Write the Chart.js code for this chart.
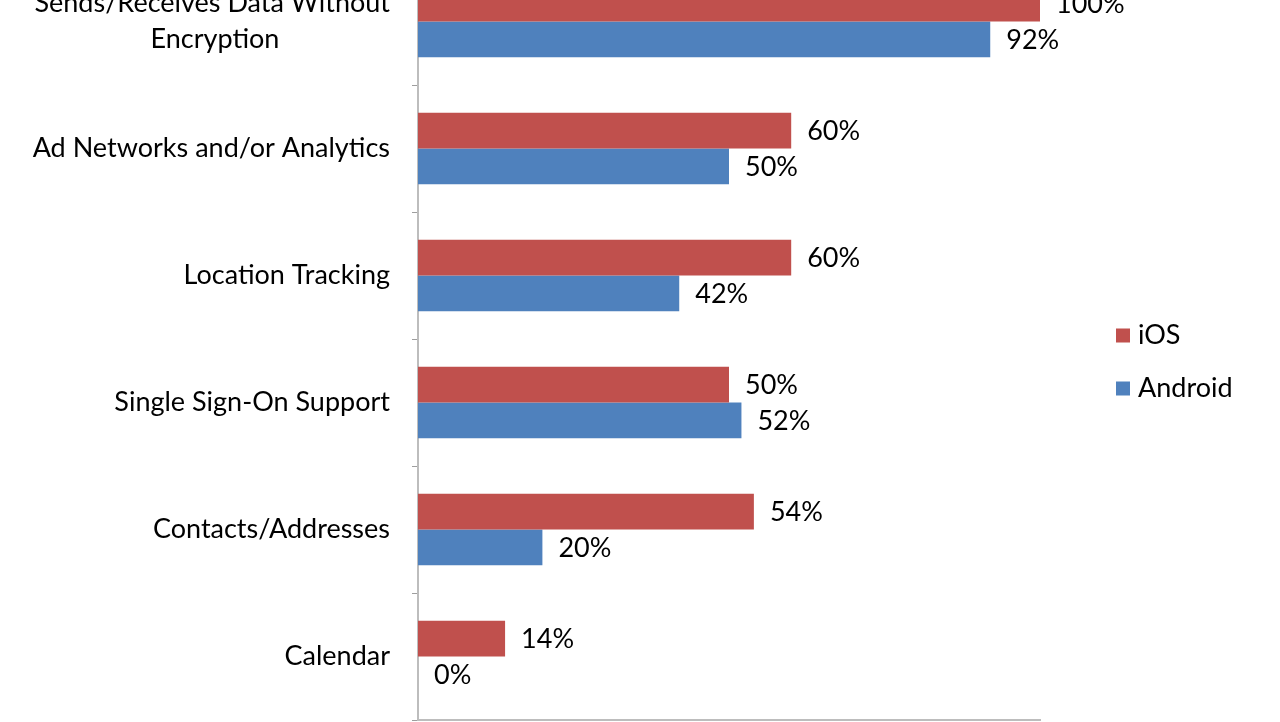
<!DOCTYPE html>
<html>
<head>
<meta charset="utf-8">
<script src="https://cdn.jsdelivr.net/npm/chart.js@4.4.1/dist/chart.umd.min.js"></script>
<style>
  html, body { margin: 0; padding: 0; background: #fff; overflow: hidden; }
  #wrap { position: absolute; left: 0; top: -48px; width: 1280px; height: 780px; }
</style>
</head>
<body>
<div id="wrap"><canvas id="myBarChart"></canvas></div>
<script>
// data
const categories = [
    ['Sends/Receives Data Without', 'Encryption'],
    'Ad Networks and/or Analytics',
    'Location Tracking',
    'Single Sign-On Support',
    'Contacts/Addresses',
    'Calendar'
];
const iosValues = [100, 60, 60, 50, 54, 14];
const androidValues = [92, 50, 42, 52, 20, 0];
const seriesNames = ['iOS', 'Android'];

const FONT = 'Lato, "Open Sans", sans-serif';
const FONT_SIZE = 27;

// wrapped labels are centred line by line, like the original
const measureCtx = document.createElement('canvas').getContext('2d');
function centreLines(label) {
    if (!Array.isArray(label)) return label;
    measureCtx.font = FONT_SIZE + 'px ' + FONT;
    const widths = label.map(l => measureCtx.measureText(l).width);
    const maxW = Math.max(...widths);
    const nbsp = measureCtx.measureText('\u00A0').width;
    return label.map((l, i) => l + '\u00A0'.repeat(Math.round((maxW - widths[i]) / 2 / nbsp)));
}

// value labels at the end of each bar
const barLabels = {
    id: 'barLabels',
    afterDatasetsDraw(chart) {
        const ctx = chart.ctx;
        ctx.save();
        ctx.font = FONT_SIZE + 'px ' + FONT;
        ctx.fillStyle = '#000';
        ctx.textBaseline = 'middle';
        ctx.textAlign = 'left';
        chart.data.datasets.forEach((ds, i) => {
            chart.getDatasetMeta(i).data.forEach((bar, j) => {
                ctx.fillText(ds.data[j] + '%', bar.x + 16, bar.y + 1);
            });
        });
        ctx.restore();
    }
};

// legend drawn by hand so it sits where the original has it
const sideLegend = {
    id: 'sideLegend',
    afterDraw(chart) {
        const ctx = chart.ctx;
        const a = chart.chartArea;
        const x = a.right + 76;
        const midY = (a.top + a.bottom) / 2 + 22;
        ctx.save();
        ctx.font = FONT_SIZE + 'px ' + FONT;
        ctx.textBaseline = 'middle';
        chart.data.datasets.forEach((ds, i) => {
            const y = midY + (i - 0.5) * 53;
            ctx.fillStyle = ds.backgroundColor;
            ctx.fillRect(x, y - 6, 14, 14);
            ctx.fillStyle = '#000';
            ctx.fillText(ds.label, x + 22, y + 1);
        });
        ctx.restore();
    }
};

const config = {
    type: 'bar',
    data: {
        labels: categories,
        datasets: [{
            label: seriesNames[0],
            data: iosValues,
            backgroundColor: '#C0504D'
        }, {
            label: seriesNames[1],
            data: androidValues,
            backgroundColor: '#4F81BD'
        }]
    },
    options: {
        indexAxis: 'y',
        responsive: true,
        maintainAspectRatio: false,
        animation: false,
        layout: { padding: { top: 6, right: 240, bottom: 12, left: 0 } },
        datasets: {
            bar: { barPercentage: 1, categoryPercentage: 0.5625 }
        },
        scales: {
            x: {
                min: 0,
                max: 100,
                afterFit(scale) {
                    scale.height = 0;
                    scale.paddingLeft = 0;
                    scale.paddingRight = 0;
                },
                grid: { display: false },
                border: { display: true, color: '#BDBDBD', width: 2 },
                ticks: { display: false }
            },
            y: {
                afterFit(scale) {
                    scale.width = 418;
                    scale.paddingTop = 0;
                    scale.paddingBottom = 0;
                },
                grid: {
                    offset: true,
                    drawOnChartArea: false,
                    tickLength: 6,
                    color: '#9E9E9E'
                },
                border: { display: true, color: '#BDBDBD', width: 2 },
                ticks: {
                    color: '#000',
                    padding: 22,
                    font: { family: FONT, size: FONT_SIZE, lineHeight: 1.33 },
                    callback(value) { return centreLines(this.getLabelForValue(value)); }
                }
            }
        },
        plugins: {
            legend: { display: false },
            tooltip: { enabled: false }
        }
    },
    plugins: [barLabels, sideLegend]
};

new Chart(document.querySelector('#myBarChart'), config);
</script>
</body>
</html>
